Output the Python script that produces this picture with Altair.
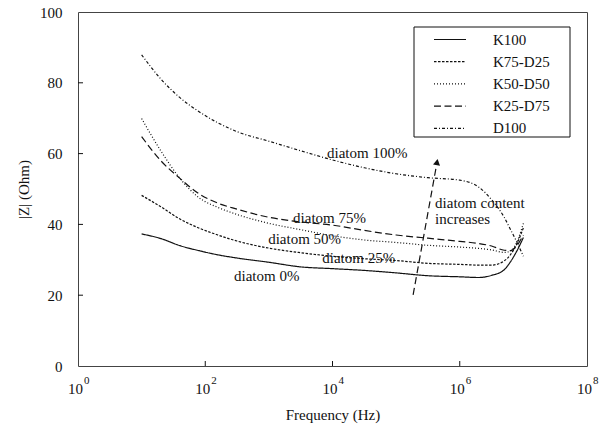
import altair as alt
import pandas as pd

FONT = "Liberation Serif"
INK = "#111111"

# Frequency grid (Hz) shared by all samples
freq_hz = [10, 20, 40, 79, 158, 316, 1000, 3162, 1e4, 31623, 1e5, 316228,
           1e6, 2e6, 3.16e6, 5e6, 6.3e6, 7.9e6, 1e7]

# Impedance modulus |Z| (Ohm) for each composition
z_k100 = [37.3, 36.0, 34.0, 32.6, 31.4, 30.5, 29.3, 28.0, 27.5, 27.0, 26.3, 25.5,
          25.2, 25.0, 25.6, 27.2, 29.5, 32.5, 36.3]
z_k75_d25 = [48.2, 45.0, 41.5, 39.0, 37.0, 35.3, 33.3, 32.0, 31.0, 30.3, 29.8, 29.0,
             28.7, 28.5, 28.5, 29.7, 31.5, 34.5, 39.0]
z_k50_d50 = [69.9, 60.8, 53.0, 47.6, 44.8, 42.8, 40.3, 38.5, 36.8, 35.6, 34.9, 34.1,
             33.6, 33.2, 32.8, 32.1, 32.5, 35.0, 40.3]
z_k25_d75 = [64.8, 58.0, 53.0, 48.7, 46.0, 44.3, 42.0, 40.7, 39.8, 38.3, 37.0, 36.1,
             35.2, 34.6, 33.9, 32.7, 32.6, 34.0, 37.0]
z_d100 = [87.9, 81.1, 75.8, 71.9, 68.7, 66.2, 63.5, 60.8, 58.2, 56.0, 54.3, 53.2,
          52.5, 50.5, 47.0, 42.0, 38.5, 35.0, 31.0]

series_names = ["K100", "K75-D25", "K50-D50", "K25-D75", "D100"]
series_values = [z_k100, z_k75_d25, z_k50_d50, z_k25_d75, z_d100]
series_dash = [[1, 0], [2.5, 1.5], [1, 2], [7, 3.5], [3, 2, 1, 2]]

rows = []
for name, vals in zip(series_names, series_values):
    for f, z in zip(freq_hz, vals):
        rows.append({"freq": f, "z": z, "sample": name})
curves = pd.DataFrame(rows)

# Curve annotations
note_text = ["diatom 100%", "diatom 75%", "diatom 50%", "diatom 25%", "diatom 0%",
             "diatom content", "increases"]
note_freq = [8200, 2400, 975, 6900, 283, 4.1e5, 4.1e5]
note_z = [60.2, 41.8, 35.9, 30.5, 25.4, 46.0, 41.5]
notes = pd.DataFrame({"freq": note_freq, "z": note_z, "text": note_text})

# Trend arrow
arrow_freq = [1.85e5, 4.4e5]
arrow_z = [20.1, 57.6]
arrow = pd.DataFrame({"freq": arrow_freq, "z": arrow_z})

# Axis tick values
x_ticks = [1, 100, 1e4, 1e6, 1e8]
x_exponents = ["0", "2", "4", "6", "8"]
y_ticks = [0, 20, 40, 60, 80, 100]

W, H = 509, 354

xs = alt.Scale(type="log", domain=[1, 1e8], nice=False)
ys = alt.Scale(domain=[0, 100], nice=False)

x_enc = alt.X("freq:Q", scale=xs,
              axis=alt.Axis(labels=False, ticks=False, domain=False, grid=False,
                            title="Frequency (Hz)", titleFont=FONT, titleFontSize=15,
                            titleFontWeight="normal", titleColor=INK, titlePadding=41))
y_enc = alt.Y("z:Q", scale=ys,
              axis=alt.Axis(values=y_ticks, ticks=False, domain=False, grid=False,
                            labelFont=FONT, labelFontSize=15, labelColor=INK,
                            labelPadding=16, title="|Z| (Ohm)", titleFont=FONT,
                            titleFontSize=15, titleFontWeight="normal",
                            titleColor=INK, titlePadding=8))

lines = alt.Chart(curves).mark_line(
    strokeWidth=1.2, color=INK, interpolate="monotone"
).encode(
    x=x_enc,
    y=y_enc,
    strokeDash=alt.StrokeDash(
        "sample:N",
        scale=alt.Scale(domain=series_names, range=series_dash),
        legend=alt.Legend(
            title=None, orient="none", legendX=355, legendY=20, padding=0,
            symbolType="stroke", symbolSize=1024, symbolStrokeWidth=1.2,
            symbolStrokeColor=INK, clipHeight=15, rowPadding=6.2,
            labelFont=FONT, labelFontSize=15, labelColor=INK, labelOffset=26,
        ),
    ),
)

legend_box = alt.Chart(pd.DataFrame({"k": [0]})).mark_rect(
    fill="white", stroke=INK, strokeWidth=1
).encode(x=alt.value(336), x2=alt.value(492), y=alt.value(15), y2=alt.value(125))

labels = alt.Chart(notes).mark_text(
    align="left", baseline="middle", font=FONT, fontSize=15, color=INK
).encode(x=alt.X("freq:Q", scale=xs), y=alt.Y("z:Q", scale=ys), text="text:N")

shaft = alt.Chart(arrow).mark_line(strokeWidth=1.2, color=INK, strokeDash=[7, 4]).encode(
    x=alt.X("freq:Q", scale=xs), y=alt.Y("z:Q", scale=ys)
)
head = alt.Chart(arrow.tail(1)).mark_point(
    shape="triangle-up", filled=True, size=50, angle=10, color=INK, opacity=1
).encode(x=alt.X("freq:Q", scale=xs), y=alt.Y("z:Q", scale=ys))

# Inward ticks
xt = pd.DataFrame({"freq": x_ticks[1:-1]})
x_tick_marks = alt.Chart(xt).mark_rule(color=INK, strokeWidth=1).encode(
    x=alt.X("freq:Q", scale=xs), y=alt.value(H), y2=alt.value(H - 5)
)
yt = pd.DataFrame({"z": y_ticks[1:-1]})
y_tick_marks = alt.Chart(yt).mark_rule(color=INK, strokeWidth=1).encode(
    y=alt.Y("z:Q", scale=ys), x=alt.value(0), x2=alt.value(5)
)

# Power-of-ten tick labels
xl = pd.DataFrame({"freq": x_ticks, "exp": x_exponents})
base_lbl = alt.Chart(xl).mark_text(
    align="right", baseline="middle", font=FONT, fontSize=15, color=INK, dx=5
).encode(x=alt.X("freq:Q", scale=xs), y=alt.value(H + 23), text=alt.value("10"))
exp_lbl = alt.Chart(xl).mark_text(
    align="left", baseline="middle", font=FONT, fontSize=11, color=INK, dx=6
).encode(x=alt.X("freq:Q", scale=xs), y=alt.value(H + 15), text="exp:N")

chart = alt.layer(
    lines, legend_box, labels, shaft, head, x_tick_marks, y_tick_marks, base_lbl, exp_lbl
).properties(
    width=W, height=H,
    autosize=alt.AutoSizeParams(type="none"),
    padding={"left": 78, "top": 12, "right": 16, "bottom": 66},
    background="white",
).configure_view(stroke="#444", strokeWidth=1)

chart.save("out.html", embed_options={"renderer": "svg", "actions": False})
